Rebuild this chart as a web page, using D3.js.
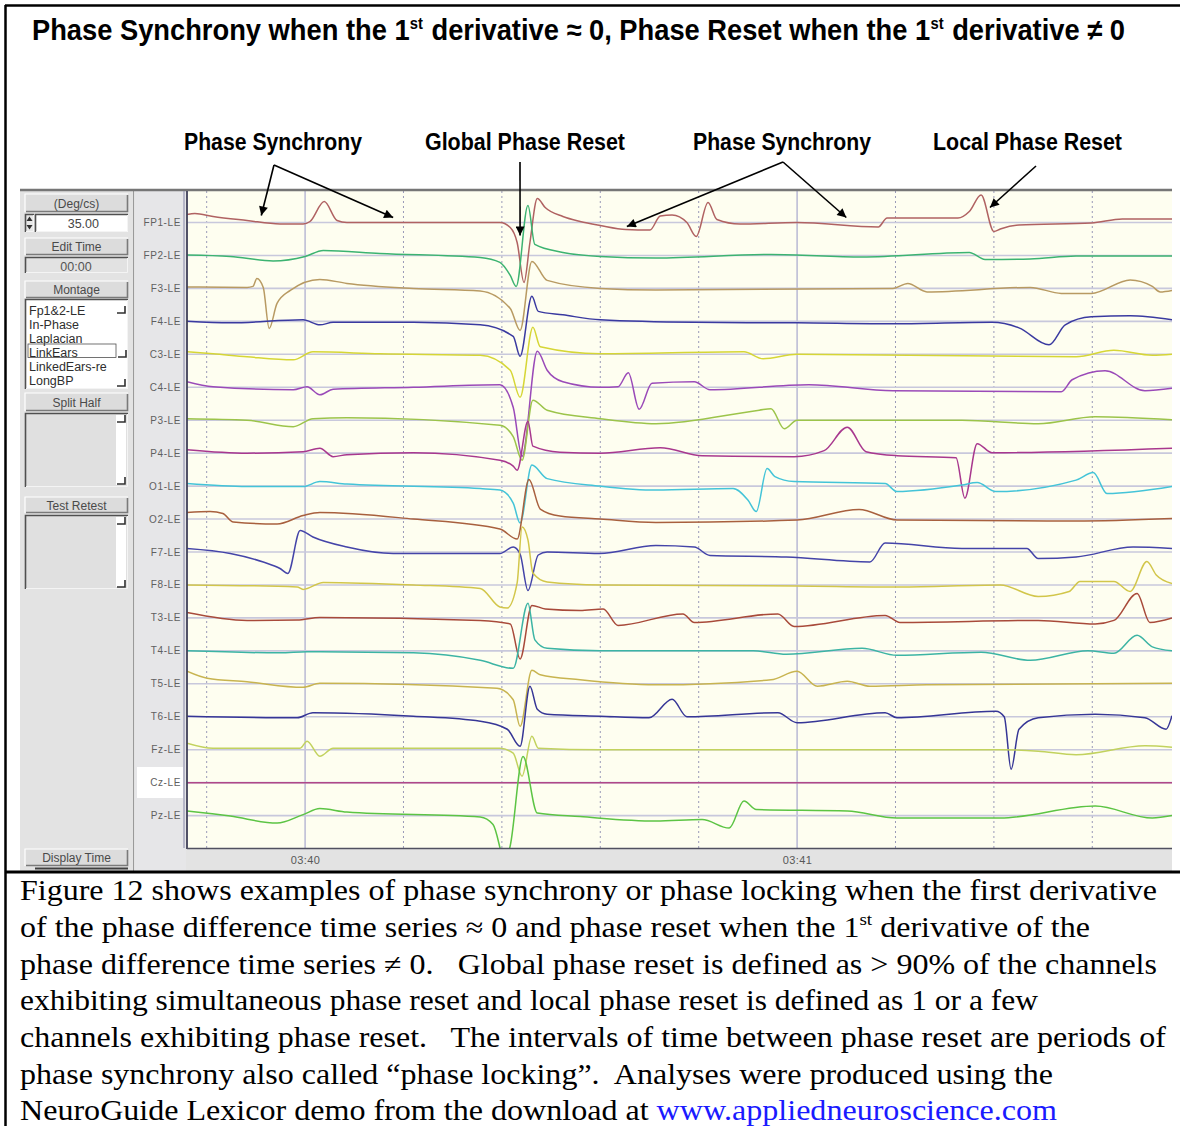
<!DOCTYPE html>
<html><head><meta charset="utf-8">
<script src="https://cdn.jsdelivr.net/npm/d3@7"></script>
<style>body{margin:0;background:#fff}svg{display:block}</style>
</head><body>
<svg id="c" width="1180" height="1126"></svg>
<script>
// ---------------- DATA ----------------
const channelLabels = ["FP1-LE","FP2-LE","F3-LE","F4-LE","C3-LE","C4-LE","P3-LE","P4-LE","O1-LE","O2-LE","F7-LE","F8-LE","T3-LE","T4-LE","T5-LE","T6-LE","Fz-LE","Cz-LE","Pz-LE"];
// time in seconds after 03:40, value in µV
const FP1 = [[-0.240,8],[-0.224,9],[-0.187,6],[-0.118,2],[-0.051,-1.5],[-0.004,-1.5],[0.010,1],[0.039,21],[0.065,2],[0.085,0],[0.396,0],[0.417,-5],[0.431,-20],[0.445,-60],[0.457,-20],[0.472,24],[0.488,15],[0.524,6],[0.559,1],[0.600,-3],[0.652,-7],[0.701,-7.5],[0.722,6.5],[0.746,7.5],[0.776,0],[0.795,-14],[0.819,20],[0.837,3],[0.884,-1.5],[1.000,0],[1.165,-4.5],[1.183,4.5],[1.327,4.5],[1.350,11],[1.374,27.5],[1.400,-9],[1.413,-6.5],[1.451,-2.5],[1.598,-0.5],[1.661,3.5],[1.762,3.5]];
const FP2 = [[-0.240,0.5],[-0.152,-1],[-0.065,-5.5],[0.000,-1],[0.037,5],[0.152,2],[0.356,-2],[0.396,-7],[0.417,-20],[0.429,-31],[0.453,50],[0.467,11],[0.524,3],[0.600,-1],[0.713,-2.5],[0.947,1],[1.132,-1.5],[1.350,3],[1.382,-4],[1.474,-3.5],[1.567,-0.5],[1.762,-0.5]];
const F3 = [[-0.240,1.5],[-0.118,1],[-0.106,2],[-0.098,10],[-0.085,1],[-0.073,-40],[-0.057,-15],[-0.030,-2],[0.030,9],[0.085,5],[0.220,0],[0.356,-2.5],[0.417,-20],[0.437,-42],[0.461,27],[0.492,8],[0.600,0],[0.713,-1.5],[1.195,0],[1.225,5],[1.264,-3.5],[1.474,1],[1.537,-5],[1.598,-5],[1.677,8.5],[1.722,2],[1.738,-3.5],[1.762,-2]];
const F4 = [[-0.240,0],[-0.152,-1.5],[-0.004,1.5],[0.030,-3.5],[0.057,-1],[0.220,-1],[0.356,-3.5],[0.423,-15],[0.437,-35],[0.461,25],[0.474,10],[0.524,6.5],[0.600,1.5],[0.791,-1],[1.000,-1.5],[1.203,-2.5],[1.396,-1],[1.451,-6.5],[1.512,-23.5],[1.545,-3.5],[1.598,4.5],[1.677,5.5],[1.762,1.5]];
const C3 = [[-0.240,2.5],[-0.187,0.5],[-0.118,-2.5],[-0.024,-5.5],[0.016,2.5],[0.152,0.5],[0.356,-1],[0.417,-16],[0.437,-43],[0.463,27],[0.478,7.5],[0.600,0.5],[0.892,2.5],[0.931,-4.5],[1.000,0],[1.567,-2.5],[1.644,4],[1.722,-1],[1.762,0]];
const C4 = [[-0.240,5.5],[-0.187,0.5],[-0.024,-2.5],[0.004,0.5],[0.030,-7.5],[0.057,-2],[0.220,0],[0.396,2.5],[0.423,-20],[0.441,-69],[0.472,36],[0.492,17],[0.524,5.5],[0.600,0],[0.636,0.5],[0.657,14.5],[0.679,-22],[0.705,4],[0.791,5.5],[0.823,-2.5],[1.024,2.5],[1.195,-3.5],[1.537,-4.5],[1.559,7.5],[1.626,16.5],[1.707,-3.5],[1.762,-1]];
const P3 = [[-0.240,1.5],[-0.118,0],[-0.024,-6.5],[0.016,1.5],[0.085,2.5],[0.396,-5],[0.423,-16.5],[0.441,-40],[0.463,20],[0.492,10],[0.600,1.5],[0.713,-3.5],[0.923,10],[0.947,11.5],[0.974,-8.5],[1.000,0],[1.335,0],[1.490,-3.5],[1.606,3.5],[1.762,0.5]];
const P4 = [[-0.240,3.5],[-0.118,0],[-0.004,1.5],[0.030,5],[0.057,-3.5],[0.085,-1.5],[0.220,0.5],[0.396,-7],[0.423,-13],[0.431,-17],[0.453,32],[0.463,7],[0.518,1],[0.600,0],[0.722,5.5],[0.807,-2.5],[0.994,-3.5],[1.055,2.5],[1.102,26],[1.140,1.5],[1.203,-2.5],[1.323,-4.5],[1.341,-45],[1.366,9.5],[1.396,0.5],[1.762,5]];
const O1 = [[-0.240,2.5],[-0.118,-0.5],[-0.004,-0.5],[0.030,4.5],[0.085,2],[0.356,-2.5],[0.396,-4],[0.423,-17],[0.437,-37],[0.461,21],[0.492,7.5],[0.600,0],[0.713,-4],[0.870,-2.5],[0.900,-14],[0.917,-25.5],[0.939,17.5],[0.955,9.5],[0.994,4.5],[1.179,2.5],[1.203,-5.5],[1.335,1],[1.366,3.5],[1.404,-5.5],[1.567,6],[1.602,13.5],[1.630,-7.5],[1.762,-0.5]];
const O2 = [[-0.240,6.5],[-0.193,7.5],[-0.167,5.5],[-0.146,-3],[-0.057,-5],[-0.004,3.5],[0.030,6.5],[0.220,0],[0.396,-10],[0.431,-20],[0.455,39.5],[0.478,10],[0.518,3],[0.600,0],[0.713,-3.5],[1.000,-1],[1.126,9.5],[1.203,-1],[1.567,-2],[1.762,0.5]];
const F7 = [[-0.240,3.5],[-0.152,-1.5],[-0.085,-10],[-0.051,-16.5],[-0.035,-21.5],[-0.010,21.5],[0.016,15],[0.085,5],[0.179,-1.5],[0.396,-1.5],[0.423,5],[0.437,-2],[0.453,-38.5],[0.474,-3],[0.492,0],[0.598,-1.5],[0.713,6.5],[0.791,5],[0.823,-3.5],[0.978,-5],[1.148,-10],[1.179,9],[1.335,3.5],[1.467,3.5],[1.490,-6.5],[1.567,-5],[1.683,5],[1.762,3.5]];
const F8 = [[-0.240,0],[-0.016,-2],[-0.004,-4.5],[0.037,2.5],[0.220,0],[0.356,-3.5],[0.396,-22],[0.411,-23],[0.431,2],[0.441,58],[0.453,45],[0.463,12],[0.492,3],[0.600,0],[1.000,-1],[1.209,-2],[1.413,0],[1.490,-11.5],[1.553,-6.5],[1.575,3.5],[1.644,3.5],[1.677,-6.5],[1.711,23.5],[1.730,10],[1.762,1.5]];
const T3 = [[-0.240,5.5],[-0.118,-2.5],[-0.016,-2],[0.030,0.5],[0.356,-2.5],[0.417,-6],[0.437,-41],[0.461,12.5],[0.488,9],[0.559,7.5],[0.606,9],[0.636,-7.5],[0.768,4],[0.791,-4.5],[0.961,4],[0.994,-8.5],[1.179,2.5],[1.209,-4.5],[1.490,-2.5],[1.606,-6],[1.644,-2.5],[1.691,24.5],[1.717,-4.5],[1.762,0]];
const T4 = [[-0.240,0],[-0.051,-2],[0.004,-1],[0.220,-2],[0.356,-9.5],[0.423,-17.5],[0.453,47.5],[0.467,11],[0.492,2.5],[0.600,0],[0.911,0],[0.978,-3.5],[1.132,2.5],[1.203,-4.5],[1.374,-1.5],[1.474,-9.5],[1.591,0],[1.644,-2.5],[1.691,15.5],[1.722,4],[1.762,0]];
const T5 = [[-0.240,12.5],[-0.199,5.5],[-0.118,2],[-0.004,-3.5],[0.030,0.5],[0.390,-4.5],[0.423,-16],[0.437,-42.5],[0.461,13.5],[0.478,9],[0.559,4],[0.713,-1],[0.947,4],[1.000,12.5],[1.041,-2.5],[1.102,2.5],[1.148,-2.5],[1.264,-1],[1.762,0.5]];
const T6 = [[-0.240,0.5],[-0.016,-1],[0.016,4],[0.220,0.5],[0.356,-4.5],[0.411,-12.5],[0.437,-29.5],[0.457,30.5],[0.472,7.5],[0.492,2.5],[0.600,0.5],[0.699,-1],[0.746,17.5],[0.776,0],[0.961,4],[1.000,-6],[1.179,4],[1.203,-1],[1.404,5.5],[1.421,0],[1.435,-52.5],[1.451,-12.5],[1.490,-1],[1.606,2.5],[1.707,-1],[1.750,-12.5],[1.762,1]];
const Fz = [[-0.240,6.5],[-0.187,1.5],[-0.010,1.5],[0.004,8.5],[0.030,-6.5],[0.057,1.5],[0.396,1.5],[0.423,-3.5],[0.441,-26.5],[0.461,13.5],[0.474,1.5],[0.600,0],[1.413,0],[1.490,-1.5],[1.567,-5],[1.707,4],[1.762,2.5]];
const Cz = [[-0.240,0],[1.762,0]];
const Pz = [[-0.240,4.5],[-0.152,-0.5],[-0.057,-7.5],[-0.004,1],[0.030,7],[0.085,3.5],[0.356,-1.5],[0.382,-9],[0.396,-32],[0.404,-50],[0.417,-30],[0.443,59],[0.472,2.5],[0.559,-1],[0.713,-5.5],[0.807,-4],[0.862,-12.5],[0.892,14.5],[0.917,6],[1.102,4.5],[1.203,-2.5],[1.413,-2.5],[1.606,9.5],[1.722,-2.5],[1.762,0]];
const seriesList = [FP1,FP2,F3,F4,C3,C4,P3,P4,O1,O2,F7,F8,T3,T4,T5,T6,Fz,Cz,Pz];

const majorTicks = [0, 1];
const majorTickLabels = ["03:40", "03:41"];
const minorTicks = [-0.2, 0.2, 0.4, 0.6, 0.8, 1.2, 1.4, 1.6];
const montageItems = ["Fp1&2-LE","In-Phase","Laplacian","LinkEars","LinkedEars-re","LongBP"];

// ---------------- STYLE ----------------
const channelColors = ["#b06262","#3cb371","#b89a62","#3a3aa0","#d6d636","#9a4ab8","#9cc44a","#a8388e","#44c4d8","#a8603e","#4444a8","#d2c64a","#a84a3a","#3cb4a4","#c8b450","#363696","#c2d25e","#b04888","#5cc444"];
const SANS = "Liberation Sans, Arial, sans-serif";

const svg = d3.select("#c");
const W = 1180, H = 1126;
const P = {l:187, r:1172, t:191, b:848};

svg.append("rect").attr("width",W).attr("height",H).attr("fill","#fff");

const x = d3.scaleLinear().domain([-0.24, 1.762]).range([P.l, P.r]);
const yBase = d3.scalePoint().domain(channelLabels).range([222.5, 815.6]);
const amp = d3.scaleLinear().domain([-50, 50]).range([50, -50]);

// ---------- window chrome ----------
svg.append("rect").attr("x",20).attr("y",191).attr("width",1152).attr("height",680).attr("fill","#e3e3e3");
svg.append("rect").attr("x",135).attr("y",191).attr("width",51).attr("height",680).attr("fill","#e6e6e8");
svg.append("rect").attr("x",137).attr("y",767).attr("width",46).attr("height",31).attr("fill","#ffffff");
svg.append("line").attr("x1",133.5).attr("x2",133.5).attr("y1",191).attr("y2",871).attr("stroke","#9a9a9a").attr("stroke-width",1);

// plot background
svg.append("rect").attr("x",P.l).attr("y",P.t).attr("width",P.r-P.l).attr("height",P.b-P.t).attr("fill","#fefef0");

// grid
const grid = svg.append("g");
grid.selectAll("line.minor").data(minorTicks).join("line").attr("class","minor")
  .attr("x1",d=>x(d)).attr("x2",d=>x(d)).attr("y1",P.t).attr("y2",P.b)
  .attr("stroke","#9a9ab8").attr("stroke-width",1).attr("stroke-dasharray","2,3");
grid.selectAll("line.major").data(majorTicks).join("line").attr("class","major")
  .attr("x1",d=>x(d)).attr("x2",d=>x(d)).attr("y1",P.t).attr("y2",P.b)
  .attr("stroke","#aeaed0").attr("stroke-width",1.3);
grid.selectAll("line.base").data(channelLabels).join("line").attr("class","base")
  .attr("x1",P.l).attr("x2",P.r).attr("y1",d=>yBase(d)).attr("y2",d=>yBase(d))
  .attr("stroke","#c8c8dc").attr("stroke-width",1.6);

// traces
svg.append("clipPath").attr("id","pc").append("rect")
  .attr("x",P.l).attr("y",P.t).attr("width",P.r-P.l).attr("height",P.b-P.t);
const traces = svg.append("g").attr("clip-path","url(#pc)");
channelLabels.forEach((ch,i)=>{
  const b = yBase(ch);
  const line = d3.line().x(d=>x(d[0])).y(d=>b + amp(d[1])).curve(d3.curveMonotoneX);
  traces.append("path").datum(seriesList[i]).attr("d",line)
    .attr("fill","none").attr("stroke",channelColors[i]).attr("stroke-width",1.5)
    .attr("stroke-linejoin","round");
});

// plot borders
svg.append("line").attr("x1",20).attr("x2",P.r).attr("y1",190).attr("y2",190).attr("stroke","#767676").attr("stroke-width",2.5);
svg.append("line").attr("x1",184).attr("x2",184).attr("y1",191).attr("y2",P.b).attr("stroke","#8888a8").attr("stroke-width",1);
svg.append("line").attr("x1",187).attr("x2",187).attr("y1",191).attr("y2",P.b+1).attr("stroke","#404058").attr("stroke-width",1.8);
svg.append("line").attr("x1",P.l).attr("x2",P.r).attr("y1",P.b+0.5).attr("y2",P.b+0.5).attr("stroke","#505060").attr("stroke-width",1.5);

// channel labels
svg.append("g").selectAll("text").data(channelLabels).join("text")
  .attr("x",181).attr("y",d=>yBase(d)+3.5).attr("text-anchor","end")
  .attr("font-family",SANS).attr("font-size",10).attr("letter-spacing",0.6)
  .attr("fill","#606060").text(d=>d);

// time axis
const axis = d3.axisBottom(x).tickValues(majorTicks).tickSize(0).tickPadding(0)
  .tickFormat((d,i)=>majorTickLabels[i]);
const ag = svg.append("g").attr("transform",`translate(0,${P.b+8})`).call(axis);
ag.select(".domain").remove();
ag.selectAll("text").attr("font-family",SANS).attr("font-size",11).attr("letter-spacing",0.4).attr("fill","#585858");

// ---------- left panel widgets ----------
const panel = svg.append("g").attr("font-family",SANS);
function raised(x0,y0,w,h,label){
  panel.append("rect").attr("x",x0).attr("y",y0).attr("width",w).attr("height",h).attr("fill","#dcdcdc");
  panel.append("path").attr("d",`M${x0},${y0+h} V${y0} H${x0+w}`).attr("fill","none").attr("stroke","#ffffff").attr("stroke-width",1.2);
  panel.append("path").attr("d",`M${x0+1},${y0+h-0.5} H${x0+w-0.5} V${y0+1}`).attr("fill","none").attr("stroke","#7a7a7a").attr("stroke-width",1.6);
  if(label) panel.append("text").attr("x",x0+w/2).attr("y",y0+h/2+4.5).attr("text-anchor","middle")
    .attr("font-size",12).attr("fill","#4a4a4a").text(label);
}
function sunken(x0,y0,w,h,fill){
  panel.append("rect").attr("x",x0).attr("y",y0).attr("width",w).attr("height",h).attr("fill",fill);
  panel.append("path").attr("d",`M${x0+0.5},${y0+h} V${y0+0.5} H${x0+w}`).attr("fill","none").attr("stroke","#505050").attr("stroke-width",1.6);
  panel.append("path").attr("d",`M${x0+1},${y0+h-0.5} H${x0+w-0.5} V${y0+1}`).attr("fill","none").attr("stroke","#f4f4f4").attr("stroke-width",1);
}
function corner(cx,cy){
  panel.append("path").attr("d",`M${cx},${cy-7} V${cy} H${cx-8}`).attr("fill","none").attr("stroke","#303030").attr("stroke-width",1.6);
}
raised(25,194,103,18,"(Deg/cs)");
sunken(25,214,9,18,"#e8e8e8");
panel.append("path").attr("d","M26.5,221 L29.5,216.5 L32.5,221 Z").attr("fill","#303030");
panel.append("path").attr("d","M26.5,225 L29.5,229.5 L32.5,225 Z").attr("fill","#303030");
sunken(35,214,93,18,"#ffffff");
panel.append("text").attr("x",99).attr("y",228).attr("text-anchor","end").attr("font-size",12.5).attr("fill","#444").text("35.00");
raised(25,238,103,17,"Edit Time");
sunken(25,257,103,16,"#e2e2e2");
panel.append("text").attr("x",76).attr("y",270.5).attr("text-anchor","middle").attr("font-size",12.5).attr("fill","#555").text("00:00");
raised(25,281,103,17,"Montage");
sunken(25,299,103,90,"#ffffff");
panel.selectAll("text.item").data(montageItems).join("text").attr("class","item")
  .attr("x",29).attr("y",(d,i)=>315+i*13.9).attr("font-size",12.5).attr("fill","#2e2e2e").text(d=>d);
panel.append("rect").attr("x",28).attr("y",344).attr("width",88).attr("height",13.5).attr("fill","none").attr("stroke","#505050").attr("stroke-width",0.8);
corner(125,313); corner(126,357); corner(125,386);
raised(25,393,103,18,"Split Half");
sunken(25,413,103,74,"#e0e0e0");
panel.append("rect").attr("x",116).attr("y",415).attr("width",10).attr("height",70).attr("fill","#ffffff");
corner(125,422); corner(125,484);
raised(25,497,103,16,"Test Retest");
sunken(25,515,103,74,"#e0e0e0");
panel.append("rect").attr("x",116).attr("y",517).attr("width",10).attr("height",70).attr("fill","#ffffff");
corner(125,524); corner(125,587);
raised(25,849,103,17,"Display Time");
panel.append("line").attr("x1",35).attr("x2",128).attr("y1",868.5).attr("y2",868.5).attr("stroke","#404040").attr("stroke-width",2);

// ---------- outer frame ----------
svg.append("line").attr("x1",5).attr("x2",W).attr("y1",5.5).attr("y2",5.5).attr("stroke","#000").attr("stroke-width",2.5);
svg.append("line").attr("x1",5.5).attr("x2",5.5).attr("y1",5).attr("y2",H).attr("stroke","#000").attr("stroke-width",2.5);
svg.append("line").attr("x1",5).attr("x2",W).attr("y1",872).attr("y2",872).attr("stroke","#000").attr("stroke-width",3);

// ---------- title (pieces laid out in sequence, then fitted) ----------
const titlePieces = [["Phase Synchrony when the 1",false],["st",true],[" derivative \u2248 0, Phase Reset when the 1",false],["st",true],[" derivative \u2260 0",false]];
const tg = svg.append("g");
let cx = 0;
titlePieces.forEach(([s,sup])=>{
  const t = tg.append("text").attr("x",cx).attr("y",sup?-11:0)
    .attr("font-family",SANS).attr("font-weight","bold").attr("font-size",sup?16:29.5)
    .attr("fill","#000").attr("xml:space","preserve").style("white-space","pre").text(s);
  cx += t.node().getComputedTextLength() + (sup?1:0);
});
tg.attr("transform",`translate(32,40) scale(${1093/cx},1)`);

// ---------- annotations ----------
const defs = svg.append("defs");
defs.append("marker").attr("id","ah").attr("viewBox","0 0 10 10").attr("refX",10).attr("refY",5)
  .attr("markerUnits","userSpaceOnUse").attr("markerWidth",12).attr("markerHeight",9).attr("orient","auto")
  .append("path").attr("d","M0,0 L10,5 L0,10 Z").attr("fill","#000");
const annotations = [
  {label:"Phase Synchrony", lx:184, lw:178, ox:274, oy:165, tips:[[-0.089,"FP1-LE",7],[0.179,"FP1-LE",5]]},
  {label:"Global Phase Reset", lx:425, lw:200, ox:520, oy:162, tips:[[0.437,"FP1-LE",-13]]},
  {label:"Phase Synchrony", lx:693, lw:178, ox:783, oy:162, tips:[[0.654,"FP1-LE",-4],[1.100,"FP1-LE",5]]},
  {label:"Local Phase Reset", lx:933, lw:189, ox:1036, oy:166, tips:[[1.392,"FP1-LE",15]]}
];
const an = svg.append("g");
annotations.forEach(a=>{
  an.append("text").attr("x",a.lx).attr("y",150).attr("font-family",SANS)
    .attr("font-weight","bold").attr("font-size",23).attr("textLength",a.lw).attr("lengthAdjust","spacingAndGlyphs")
    .attr("fill","#000").text(a.label);
  a.tips.forEach(t=>{
    an.append("line").attr("x1",a.ox).attr("y1",a.oy).attr("x2",x(t[0])).attr("y2",yBase(t[1])-t[2])
      .attr("stroke","#000").attr("stroke-width",1.6).attr("marker-end","url(#ah)");
  });
});

// ---------- caption ----------
const cap = svg.append("g").attr("font-family","Liberation Serif, 'Times New Roman', serif").attr("font-size",28.5).attr("fill","#000");
const capLines = [
  {y:900, w:1137, parts:[["Figure 12 shows examples of phase synchrony or phase locking when the first derivative"]]},
  {y:937, w:1070, parts:[["of the phase difference time series \u2248 0 and phase reset when the 1"],["st","sup"],[" derivative of the"]]},
  {y:974, w:1137, parts:[["phase difference time series \u2260 0.   Global phase reset is defined as > 90% of the channels"]]},
  {y:1010, w:1018, parts:[["exhibiting simultaneous phase reset and local phase reset is defined as 1 or a few"]]},
  {y:1047, w:1146, parts:[["channels exhibiting phase reset.   The intervals of time between phase reset are periods of"]]},
  {y:1084, w:1033, parts:[["phase synchrony also called \u201cphase locking\u201d.  Analyses were produced using the"]]},
  {y:1120, w:1037, parts:[["NeuroGuide Lexicor demo from the download at "],["www.appliedneuroscience.com","link"]]}
];
capLines.forEach(L=>{
  const t = cap.append("text").attr("x",20).attr("y",L.y).attr("textLength",L.w).attr("lengthAdjust","spacingAndGlyphs")
    .attr("xml:space","preserve").style("white-space","pre");
  L.parts.forEach(p=>{
    const s = t.append("tspan").text(p[0]);
    if(p[1]==="sup"){ s.attr("font-size",17).attr("dy",-12); }
    else if(p[1]==="link"){ s.attr("fill","#1a1aff"); }
    else if(t.selectAll("tspan").size()>1){ s.attr("dy",12); }
  });
});
</script>
</body></html>
